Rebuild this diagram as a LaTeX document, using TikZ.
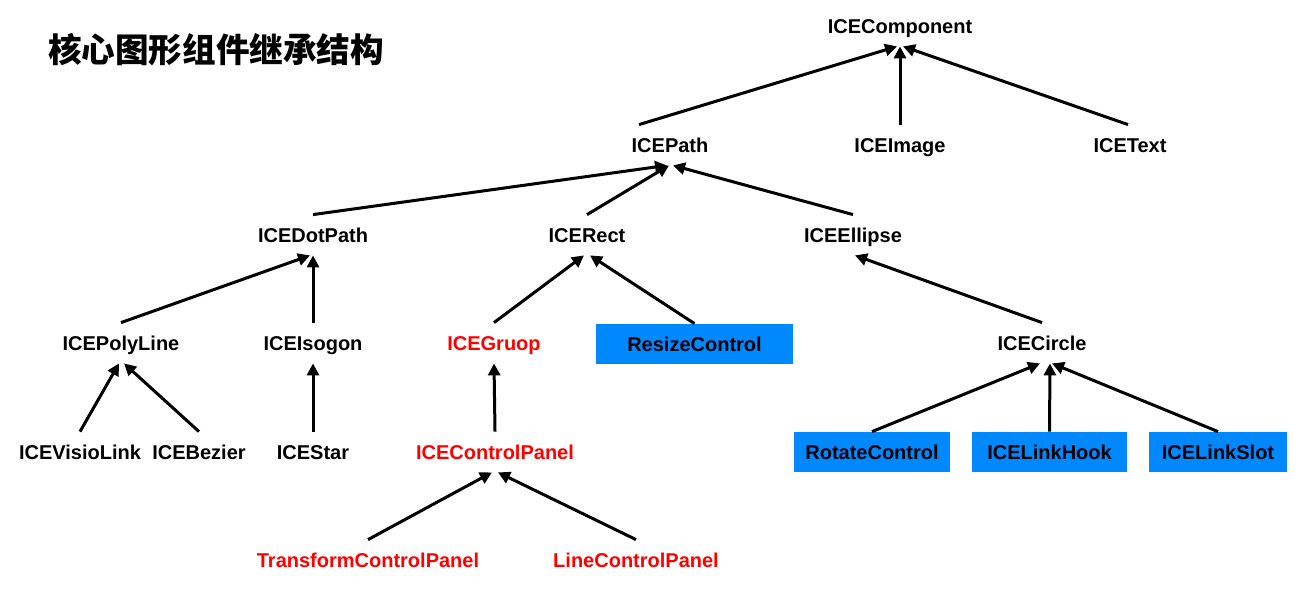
\documentclass[tikz,border=0pt]{standalone}
\usepackage{fontspec}
\setmainfont{Liberation Sans}
\newfontfamily\cjk{Noto Sans CJK SC}
\usetikzlibrary{arrows.meta}

\definecolor{ctrlblue}{RGB}{0,136,255}

\tikzset{
    cls/.style={font=\bfseries\fontsize{10}{12}\selectfont, minimum height=20pt, inner sep=0pt,
        text height=7.2pt, text depth=0pt},
    panel/.style={cls, text=red},
    ctrl/.style={cls, fill=ctrlblue},
    inherit/.style={-{Triangle[length=6pt, width=6pt]}, line width=1.5pt}
}

\begin{document}
\begin{tikzpicture}[x=0.5pt, y=-0.5pt]
        \useasboundingbox (0, 0) rectangle (1310, 610);

        % Title
        \node[font=\cjk\bfseries\fontsize{16.8}{18}\selectfont, anchor=west] (title) at (41, 50) {核心图形组件继承结构};

        % Top level
        \node[cls] (comp) at (900, 26) {ICEComponent};
        \node[cls] (path) at (670, 145) {ICEPath};
        \node[cls] (image) at (900, 145) {ICEImage};
        \node[cls] (text) at (1130, 145) {ICEText};

        % Path children
        \node[cls] (dotpath) at (313, 235) {ICEDotPath};
        \node[cls] (rect) at (587, 235) {ICERect};
        \node[cls] (ellipse) at (853, 235) {ICEEllipse};

        % Third level
        \node[cls] (polyline) at (121, 343) {ICEPolyLine};
        \node[cls] (isogon) at (313, 343) {ICEIsogon};
        \node[panel] (group) at (494, 343) {ICEGruop};
        \node[ctrl, minimum width=98.5pt] (resize) at (694.5, 344) {ResizeControl};
        \node[cls] (circle) at (1042, 343) {ICECircle};

        % Fourth level
        \node[cls] (visio) at (80, 452) {ICEVisioLink};
        \node[cls] (bezier) at (199, 452) {ICEBezier};
        \node[cls] (star) at (313, 452) {ICEStar};
        \node[panel] (ctrlpanel) at (495, 452) {ICEControlPanel};
        \node[ctrl, minimum width=78pt] (rotate) at (872, 452) {RotateControl};
        \node[ctrl, minimum width=77.5pt] (hook) at (1049.5, 452) {ICELinkHook};
        \node[ctrl, minimum width=69pt] (slot) at (1218, 452) {ICELinkSlot};

        % Panels
        \node[panel] (transform) at (368, 560) {TransformControlPanel};
        \node[panel] (linepanel) at (636, 560) {LineControlPanel};

        % Inheritance arrows
        \draw[inherit] ([xshift=-15.5pt]path.north) -- ([xshift=-1.5pt]comp.south);
        \draw[inherit] (image.north) -- (comp.south);
        \draw[inherit] ([xshift=-1pt]text.north) -- ([xshift=1.5pt]comp.south);

        \draw[inherit] (dotpath.north) -- ([xshift=-1.5pt]path.south);
        \draw[inherit] (rect.north) -- ([xshift=-0.5pt]path.south);
        \draw[inherit] (ellipse.north) -- ([xshift=1.5pt]path.south);

        \draw[inherit] (polyline.north) -- ([xshift=-1.5pt]dotpath.south);
        \draw[inherit] (isogon.north) -- (dotpath.south);

        \draw[inherit] (group.north) -- ([xshift=-1.5pt]rect.south);
        \draw[inherit] (resize.north) -- ([xshift=1.5pt]rect.south);

        \draw[inherit] (circle.north) -- ([xshift=1pt]ellipse.south);

        \draw[inherit] (visio.north) -- ([xshift=-1pt]polyline.south);
        \draw[inherit] (bezier.north) -- ([xshift=1.5pt]polyline.south);
        \draw[inherit] (star.north) -- (isogon.south);
        \draw[inherit] (ctrlpanel.north) -- (group.south);

        \draw[inherit] (rotate.north) -- ([xshift=-1pt]circle.south);
        \draw[inherit] (hook.north) -- ([xshift=4pt]circle.south);
        \draw[inherit] (slot.north) -- ([xshift=5pt]circle.south);

        \draw[inherit] (transform.north) -- ([xshift=-1.5pt]ctrlpanel.south);
        \draw[inherit] (linepanel.north) -- ([xshift=1.5pt]ctrlpanel.south);
\end{tikzpicture}
\end{document}
